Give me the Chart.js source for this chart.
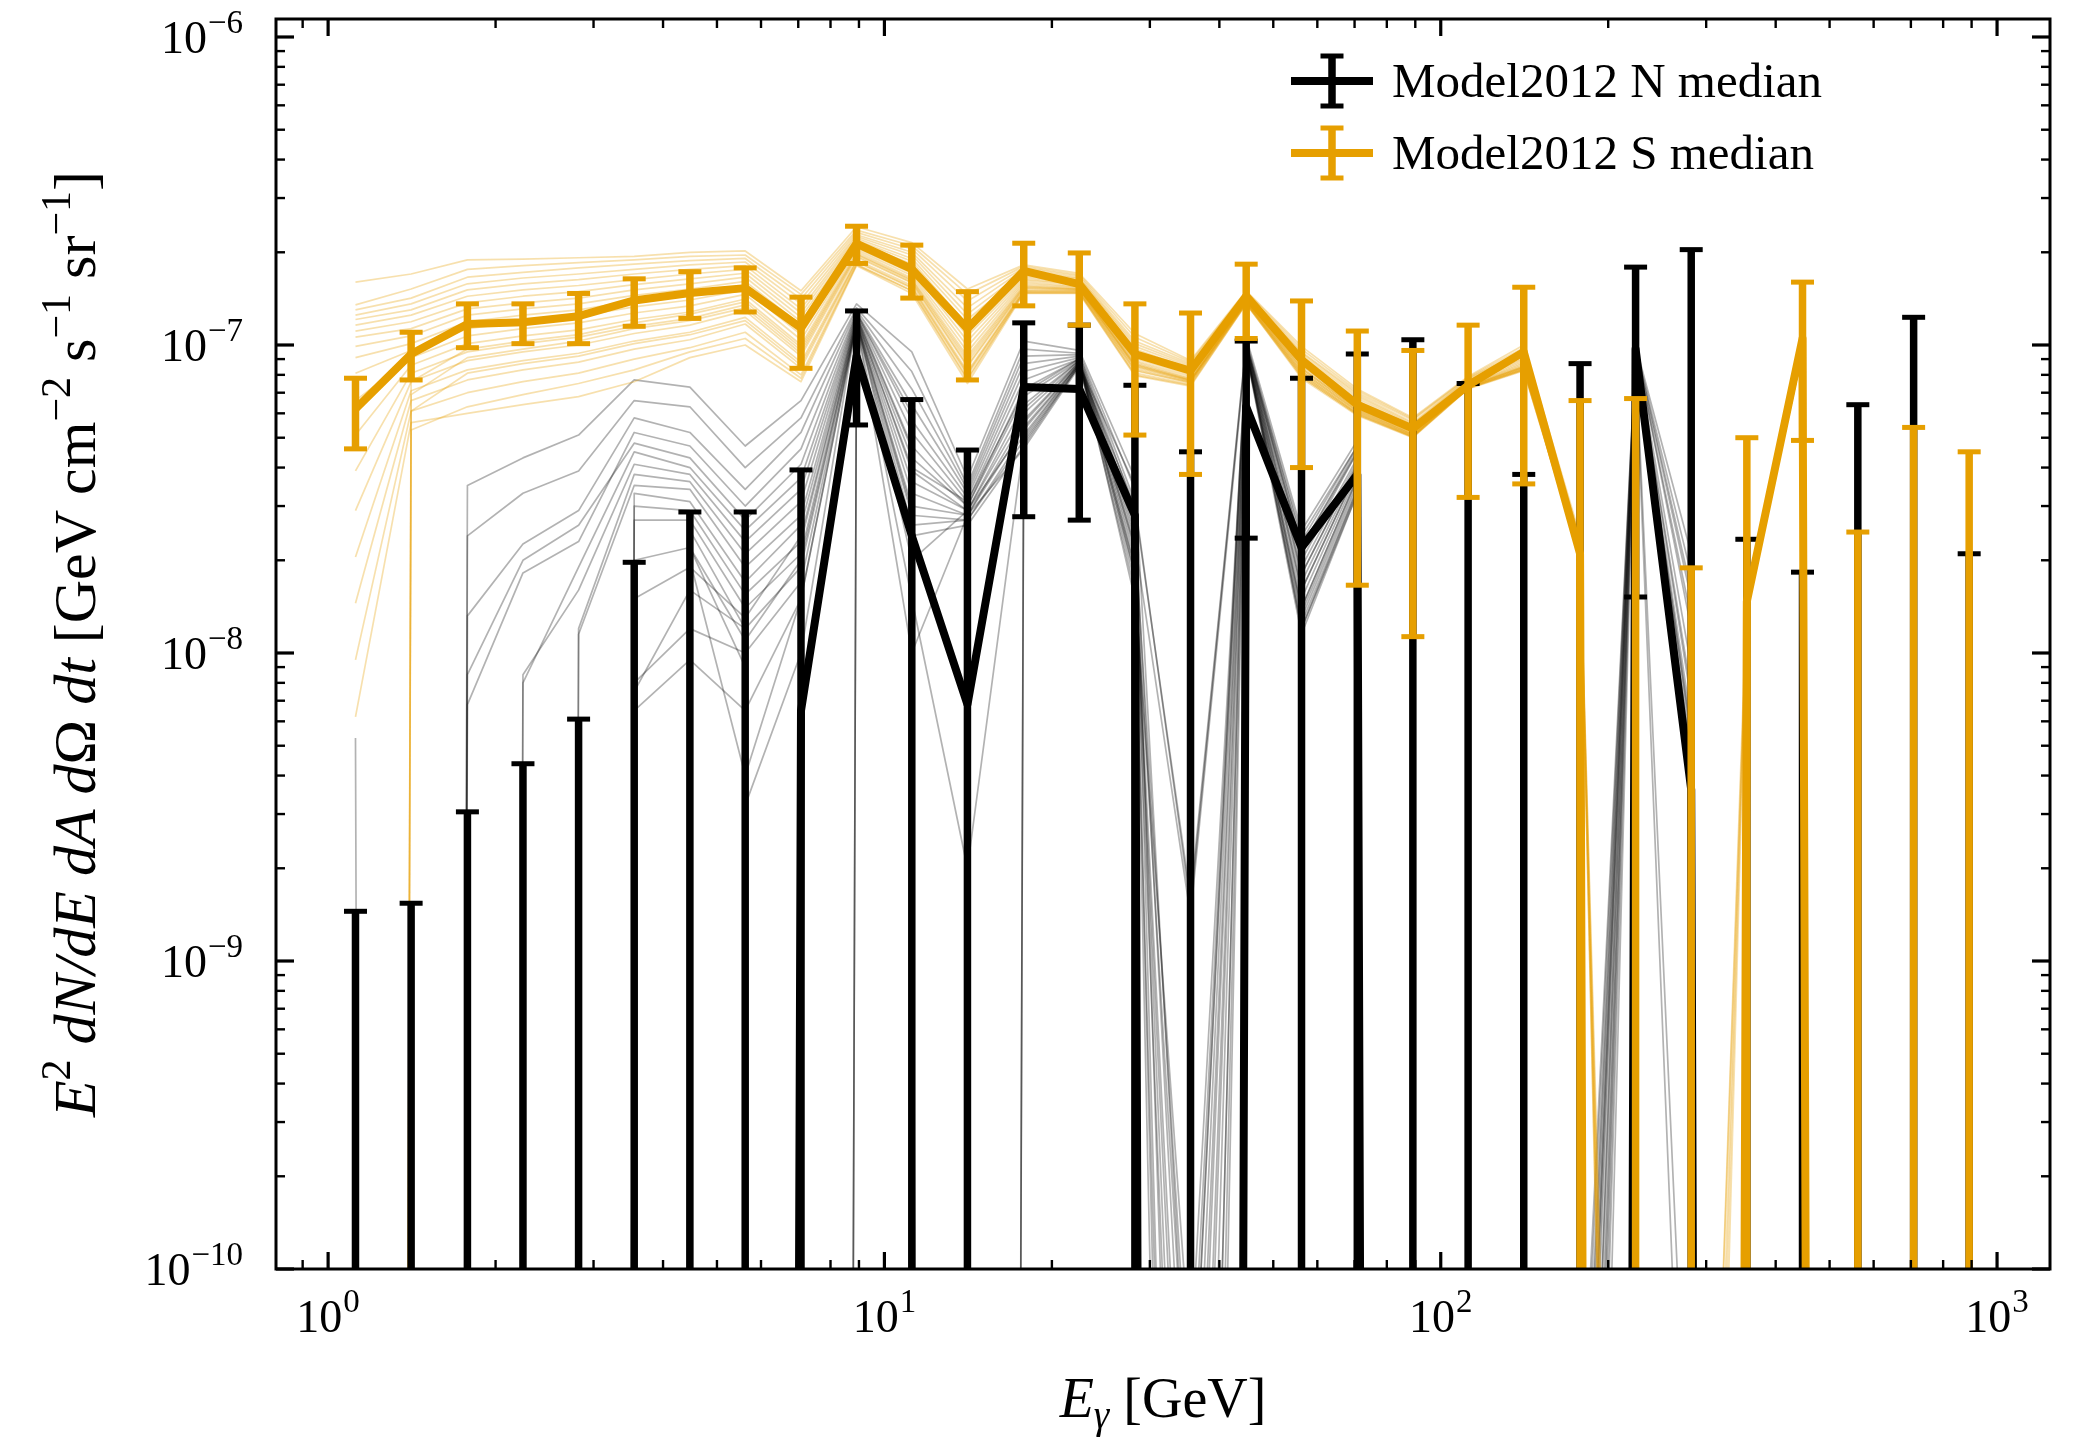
<!DOCTYPE html>
<html>
<head>
<meta charset="utf-8">
<title>Model2012 N/S median spectra</title>
<script src="https://cdn.jsdelivr.net/npm/chart.js"></script>
<style>
  html, body { margin: 0; padding: 0; background: #ffffff; overflow: hidden; }
  #wrap { width: 2095px; height: 1441px; position: relative; }
</style>
</head>
<body>
<div id="wrap"><canvas id="spectrum"></canvas></div>
<script>
// Energy bin centres [GeV], 10 bins per decade.
const energies = [1.12, 1.41, 1.78, 2.24, 2.82, 3.55, 4.47, 5.62, 7.08, 8.91,
                  11.2, 14.1, 17.8, 22.4, 28.2, 35.5, 44.7, 56.2, 70.8, 89.1,
                  112, 141, 178, 224, 282, 355, 447, 562, 708, 891];

// All fluxes below are in units of 1e-9 GeV cm^-2 s^-1 sr^-1.
// null = non-positive value (clipped on the log axis), lower = 0 -> bar runs below the axis floor.

// North median and its error bar ends.
const nMedian = [null, null, null, null, null, null, null, null, 6.5, 92,
                 24, 6.8, 73, 72, 28, null, 63, 22, 38, null,
                 null, null, null, 97, 3.6, null, null, null, null, null];
const nUpper = [1.45, 1.54, 3.05, 4.37, 6.1, 19.7, 28.7, 28.7, 39.3, 129,
                66.5, 45.6, 118, 116, 74, 45, 103, 78, 93.5, 104,
                75, 38, 87, 179, 204, 23.4, 18.3, 64, 123, 21];
const nLower = [0, 0, 0, 0, 0, 0, 0, 0, 0, 55,
                0, 0, 27.7, 27, 0, 0, 23.6, 0, 0, 0,
                0, 0, 0, 15.2, 0, 0, 0, 0, 0, 0];

// South median and its error bar ends.
const sMedian = [62, 93.5, 117, 118.5, 124, 139.5, 147.5, 153, 113.5, 213.5,
                 176.5, 113, 174, 157.5, 93.5, 82.5, 144, 89.5, 64, 53.5,
                 74, 95, 21, null, null, 14.7, 105, null, null, null];
const sUpper = [78, 110, 136, 136, 147, 164, 173, 178, 143, 243,
                211, 149, 214, 199, 136, 127, 183, 139, 111, 96,
                116, 154, 66, 67, 18.9, 50, 160, 24.7, 54, 45];
const sLower = [46, 77, 98, 101, 101, 115, 122, 128, 84, 184,
                142, 77, 134, 116, 51, 38, 105, 40, 16.6, 11.3,
                32, 35.4, 0, 0, 0, 0, 49, 0, 0, 0];

// Individual North model realisations.
const nSamples = [
  [null, null, 35, 43, 51, 77, 73, 47, 66, 136, 95, 37, 103, 96, 37, 0.02, 106, 25, 49, null, null, null, 0.004, 100, 21, null, null, null, null, null],
  [null, null, 24, 33, 39, 66, 63, 40, 58, 132, 82, 35, 97, 94, 34, 0.0001, 104, 23, 47, null, null, null, 0.0001, 99, 16, null, null, null, null, null],
  [null, null, 13.2, 22.6, 29, 58, 52, 34, 52, 130, 72, 34, 92, 93, 31, 1.5, 102, 21, 45, null, null, null, 0.01, 98, 12, null, null, null, null, null],
  [5.3, null, 6.8, 18.2, 23, 52, 47, 30, 46, 128, 64, 33, 87, 92, 29, 0.00001, 101, 20, 43, null, null, null, null, 97, 9, null, null, null, null, null],
  [null, null, 8.5, 20, 26, 48, 43, 27, 41, 127, 57, 32, 82, 91, 27, 0.01, 100, 19, 42, null, null, null, 0.002, 96, 7.5, null, null, null, null, null],
  [null, null, null, 8, 19, 45, 40, 25, 37, 126, 52, 31, 77, 90, 26, null, 99, 18, 41, null, null, null, 0.00001, 95, 0.01, null, null, null, null, null],
  [null, null, null, 8.5, 16, 41, 38, 23, 34, 125, 47, 30, 72, 90, 24, 0.03, 98, 17, 40, null, null, null, 0.02, 95, 6, null, null, null, null, null],
  [null, null, null, null, 12, 38, 36, 21, 31, 124, 43, 30, 68, 89, 23, 1.4, 98, 16, 39, null, null, null, 0.0005, 94, 5.4, null, null, null, null, null],
  [null, null, null, null, 11.5, 35, 34, 19, 28, 123, 39, 29, 64, 89, 22, 0.000001, 97, 15, 38, null, null, null, null, 94, 5, null, null, null, null, null],
  [null, null, null, null, null, 33, 31, 17, 26, 122, 36, 29, 60, 88, 21, 0.001, 97, 14, 37, null, null, null, 0.006, 93, 4.6, null, null, null, null, null],
  [null, null, null, null, null, 30, 29, 15.5, 23, 121, 33, 28, 57, 88, 20, null, 96, 13.5, 36, null, null, null, 0.0002, 93, 4.3, null, null, null, null, null],
  [null, null, null, null, null, 27, 27, 14, 21, 120, 30, 28, 54, 87, 19, 0.005, 96, 13, 35, null, null, null, 0.001, 92, 4.1, null, null, null, null, null],
  [null, null, null, null, null, 7.5, 16, 12, 19, 119, 28, 27, 51, 87, 18, 0.0000001, 95, 12.5, 34, null, null, null, null, 92, 3.9, null, null, null, null, null],
  [null, null, null, null, null, 8, 12, 10, 17, 118, 26, 27, 49, 86, 17, 0.0005, 95, 12, 34, null, null, null, 0.003, 91, 0.003, null, null, null, null, null],
  [null, null, null, null, null, 6.5, 9.5, 6.5, 15, 117, 24, 26, 47, 86, 16, 0.05, 94, 11.5, 33, null, null, null, 0.00005, 91, 3.5, null, null, null, null, null],
  [null, null, null, null, null, null, 25, 12, null, 127, 60, null, 62, 89, 25, null, 100, 18, 41, null, null, null, 0.008, 96, 7, null, null, null, null, null],
  [null, null, null, null, null, null, 22, 9, null, 124, 46, null, 56, 88, 22, null, 98, 16, 39, null, null, null, 0.0003, 95, 5.5, null, null, null, null, null],
  [null, null, null, null, null, null, null, 3.2, 10, 120, 29, null, 50, 87, 19, 0.02, 96, 14, 37, null, null, null, null, 93, 4.5, null, null, null, null, null],
  [null, null, null, null, null, null, null, 5, null, 122, 40, 31, 70, 90, 15, 0.00001, 99, 22, 45, null, null, null, 0.015, 97, 13, null, null, null, null, null],
  [null, null, null, null, null, 20, 22, 11, 20, 118, 15, 2, 48, 86, 35, null, 101, 24, 47, null, null, null, 0.001, 99, 18, null, null, null, null, null],
  [null, null, null, null, null, null, 20, 4, 15, 119, 10, 28, 46, 85, 30, 1.6, 102, 22, 46, null, null, null, null, 98, 15, null, null, null, null, null],
  [null, null, null, null, null, 15, 19, 13, 24, 121, 20, 29, 53, 87, 18, 0.003, 96, 12, 33, null, null, null, 0.004, 90, 3.4, null, null, null, null, null]
];

// Individual South model realisations.
const sSamples = [
  [160, 170, 189, 190, 192, 194, 200, 202, 150, 242, 215, 152, 182, 171, 109, 89, 150, 99, 72, 58, 79, 100, 24, 0.000001, null, 16, 110, null, null, null],
  [135, 152, 176, 181, 185, 189, 194, 196, 146, 236, 210, 146, 180, 169, 106, 88, 149, 97, 71, 57.5, 78.5, 98, 23.6, null, 0.0001, 15.8, 108, null, null, null],
  [130, 142, 166, 172, 178, 183, 188, 191, 141, 232, 205, 139, 178, 167, 103, 87, 148, 95, 70, 57, 78, 96, 23.2, 0.0000003, null, 15.6, 106, null, null, null],
  [125, 136, 158, 165, 170, 176, 182, 186, 136, 228, 200, 132, 176, 165, 101, 86, 147, 94, 69, 56, 77.5, 95, 23, null, null, 15.4, 105, null, null, null],
  [121, 130, 151, 158, 163, 170, 176, 181, 131, 225, 196, 126, 173, 164, 99, 85, 146, 92.5, 68, 55.5, 77, 93, 22.6, 0.000005, 0.00001, 15.2, 104, null, null, null],
  [116, 125, 144, 151, 156, 163, 170, 176, 127, 222, 191, 121, 171, 162, 97, 84, 145, 91, 67, 55, 76.5, 92, 22.4, null, null, 15, 103, null, null, null],
  [111, 119, 137, 144, 149, 157, 164, 171, 123, 219, 187, 116, 168, 161, 95, 83, 144, 90, 66, 54.5, 76, 91, 22.2, 0.000002, null, 14.9, 102, null, null, null],
  [106, 113, 131, 137, 142, 151, 158, 166, 119, 216, 183, 111, 166, 159, 93.5, 82, 143, 89, 65, 54, 75.5, 90, 22, null, 0.00003, 14.8, 101, null, null, null],
  [99, 107, 125, 131, 136, 145, 152, 161, 116, 213, 179, 107, 164, 158, 92, 81, 142, 88, 64.5, 53.5, 75, 89, 21.8, 0.0000005, null, 14.7, 100, null, null, null],
  [91, 101, 119, 125, 130, 139, 146, 156, 112, 210, 175, 103, 162, 157, 90.5, 80, 141, 87, 64, 53, 74.5, 88, 21.6, null, null, 14.6, 99, null, null, null],
  [81, 96, 113, 119, 124, 133, 140, 151, 108, 207, 171, 99, 160, 155, 89, 79, 140, 86, 63, 52.5, 74, 87, 21.4, 0.00001, null, 14.5, 98, null, null, null],
  [66, 91, 107, 113, 118, 127, 134, 146, 104, 204, 168, 95, 158, 154, 88, 78, 139.5, 85, 62.5, 52, 74, 86, 21.2, null, 0.000003, 14.4, 97.5, null, null, null],
  [51, 86, 101, 107, 112, 121, 128, 141, 100, 201, 165, 92, 156, 153, 87, 77.5, 139, 84, 62, 51.5, 73.5, 85.5, 21, 0.000001, null, 14.3, 97, null, null, null],
  [39, 81, 95, 101, 106, 115, 122, 135, 96, 197, 162, 88, 154, 152, 86, 77, 138.5, 83, 61.5, 51.2, 73.3, 85, 21, null, null, 14.2, 96.5, null, null, null],
  [29, 76, 89, 95, 100, 109, 116, 129, 92, 193, 159, 85, 152, 151, 85, 76.5, 138, 82, 61, 51, 73, 84.5, 20.9, 0.000004, null, 14.1, 96, null, null, null],
  [20.5, 71, 83, 89, 94, 103, 110, 123, 88, 189, 156, 82, 150, 150, 84, 76, 137.5, 81, 60.5, 50.7, 72.8, 84, 20.8, null, null, 14, 95.5, null, null, null],
  [14.5, 66, 77, 83, 88, 97, 104, 117, 84, 186, 153, 80, 149, 149, 82.5, 75.5, 137, 80, 60, 50.5, 72.5, 83.5, 20.7, null, 0.0001, 14, 95, null, null, null],
  [9.5, 61, 70, 76, 81, 90, 98, 110, 80, 183, 150, 77, 148, 148, 81, 74.5, 136.5, 79, 59.5, 50.3, 72.3, 83, 20.6, null, null, 13.9, 95, null, null, null],
  [6.2, 56, 60, 64, 68, 76, 91, 100, 76, 181, 147, 75, 147, 147, 79.5, 73.5, 136, 78, 59, 50, 72, 82.5, 20.5, null, null, 13.9, 95, null, null, null],
  [null, 69, 91, 97, 103, 113, 120, 132, 94, 195, 160, 86, 153, 151, 85.5, 76.5, 138, 82, 61, 51, 73, 84.5, 21, null, null, 14.2, 96, null, null, null],
  [null, 61, 81, 87, 92, 101, 108, 120, 86, 187, 154, 81, 150, 149, 83, 75.5, 137, 80.5, 60, 50.5, 72.5, 83.5, 20.8, null, null, 14, 95.5, null, null, null],
  [null, 53, 63, 69, 75, 83, 95, 105, 78, 182, 150, 78, 148, 147.5, 80, 74, 136, 79, 59.5, 50.2, 72.2, 83, 20.6, null, null, 13.9, 95, null, null, null],
  [null, 76, 97, 103, 108, 118, 126, 138, 98, 198, 163, 90, 155, 152, 86.5, 77, 139, 84, 62, 51.5, 73.5, 85, 21.2, null, null, 14.3, 97, null, null, null]
];

// Axis ticks and their labels.
const xMajorTicks = [1, 10, 100, 1000];
const xTickExponents = ['0', '1', '2', '3'];
const yMajorTicks = [1e-10, 1e-9, 1e-8, 1e-7, 1e-6];
const yTickExponents = ['\u221210', '\u22129', '\u22128', '\u22127', '\u22126'];

const UNIT = 1e-9;
const CLIP_FLOOR = 1e-60;   // stand-in for non-positive values, drawn far below the axis
const X_MIN = 0.806, X_MAX = 1245;
const Y_MIN = 1e-10, Y_MAX = 1.144e-6;

const BLACK = '#000000';
const ORANGE = '#E69F00';
const SERIF = '"Liberation Serif", "DejaVu Serif", serif';

/**
 * Turns a flux table row into chart points.
 *
 * @param {Array} values - Fluxes in UNIT, null where the value is non-positive.
 */
function toPoints(values) {
    return energies.map((e, i) => ({
        x: e,
        y: values[i] == null ? CLIP_FLOOR : values[i] * UNIT,
    }));
}

const lineDefaults = {
    pointRadius: 0,
    pointHoverRadius: 0,
    fill: false,
    tension: 0,
    borderJoinStyle: 'round',
    borderCapStyle: 'butt',
};

const datasets = [
    {
        ...lineDefaults,
        label: 'Model2012 S median',
        data: toPoints(sMedian),
        borderColor: ORANGE,
        borderWidth: 8,
        order: 0,
        errorBars: { upper: sUpper, lower: sLower },
    },
    {
        ...lineDefaults,
        label: 'Model2012 N median',
        data: toPoints(nMedian),
        borderColor: BLACK,
        borderWidth: 8,
        order: 1,
        errorBars: { upper: nUpper, lower: nLower },
    },
];
sSamples.forEach((row, i) => {
    datasets.push({
        ...lineDefaults,
        label: 'S realisation ' + (i + 1),
        data: toPoints(row),
        borderColor: 'rgba(230, 159, 0, 0.32)',
        borderWidth: 1.7,
        order: 2,
    });
});
nSamples.forEach((row, i) => {
    datasets.push({
        ...lineDefaults,
        label: 'N realisation ' + (i + 1),
        data: toPoints(row),
        borderColor: 'rgba(0, 0, 0, 0.3)',
        borderWidth: 1.7,
        order: 3,
    });
});

/**
 * Draws a run of mixed roman / italic / super- and subscript text.
 * x is the centre of the whole run, y the baseline.
 */
function drawRuns(ctx, runs, x, y, size) {
    const fontFor = (r) => {
        const small = r.s === 'sup' || r.s === 'sub' || r.s === 'subit';
        const italic = r.s === 'it' || r.s === 'subit';
        return (italic ? 'italic ' : '') + (small ? size * 0.7 : size) + 'px ' + SERIF;
    };
    let total = 0;
    const widths = runs.map((r) => {
        ctx.font = fontFor(r);
        const w = ctx.measureText(r.t).width;
        total += w;
        return w;
    });
    let cx = x - total / 2;
    runs.forEach((r, i) => {
        ctx.font = fontFor(r);
        let dy = 0;
        if (r.s === 'sup') dy = -size * 0.42;
        if (r.s === 'sub' || r.s === 'subit') dy = size * 0.2;
        ctx.fillText(r.t, cx, y + dy);
        cx += widths[i];
    });
}

/**
 * Draws a "10^n" tick label. align is 'right' (y axis) or 'center' (x axis).
 */
function drawPowerLabel(ctx, exponent, x, y, align) {
    ctx.font = '46px ' + SERIF;
    const wBase = ctx.measureText('10').width;
    ctx.font = '33px ' + SERIF;
    const wExp = ctx.measureText(exponent).width;
    const total = wBase + wExp + 1;
    const left = align === 'right' ? x - total : x - total / 2;
    ctx.font = '46px ' + SERIF;
    ctx.fillText('10', left, y);
    ctx.font = '33px ' + SERIF;
    ctx.fillText(exponent, left + wBase + 1, y - 20);
}

function strokeLine(ctx, x0, y0, x1, y1) {
    ctx.beginPath();
    ctx.moveTo(x0, y0);
    ctx.lineTo(x1, y1);
    ctx.stroke();
}

// Vertical error bars with caps, drawn right after their median line.
const errorBarPlugin = {
    id: 'errorBars',
    afterDatasetDraw(chart, args) {
        const ds = chart.data.datasets[args.index];
        if (!ds.errorBars) return;
        const { ctx, chartArea: a, scales: { x, y } } = chart;
        const { upper, lower } = ds.errorBars;
        ctx.save();
        ctx.beginPath();
        ctx.rect(a.left, a.top, a.right - a.left, a.bottom - a.top);
        ctx.clip();
        ctx.strokeStyle = ds.borderColor;
        ctx.lineCap = 'butt';
        energies.forEach((e, i) => {
            const px = x.getPixelForValue(e);
            const top = y.getPixelForValue(upper[i] * UNIT);
            const bottom = lower[i] > 0 ? y.getPixelForValue(lower[i] * UNIT) : a.bottom + 20;
            ctx.lineWidth = 7.5;
            strokeLine(ctx, px, top, px, bottom);
            ctx.lineWidth = 5;
            strokeLine(ctx, px - 11.5, top, px + 11.5, top);
            if (lower[i] > 0) strokeLine(ctx, px - 11.5, bottom, px + 11.5, bottom);
        });
        ctx.restore();
    },
};

// Frame, inward ticks on all four sides, tick labels and axis titles.
const axesPlugin = {
    id: 'axesFrame',
    afterDraw(chart) {
        const { ctx, chartArea: a, scales: { x, y } } = chart;
        ctx.save();
        ctx.strokeStyle = BLACK;
        ctx.fillStyle = BLACK;
        ctx.lineCap = 'butt';

        // x ticks (bottom and top)
        for (let p = -1; p <= 3; p++) {
            for (let m = 1; m <= 9; m++) {
                const v = m * Math.pow(10, p);
                if (v < X_MIN || v > X_MAX) continue;
                const px = x.getPixelForValue(v);
                const len = m === 1 ? 17 : 9;
                ctx.lineWidth = m === 1 ? 3.2 : 2.4;
                strokeLine(ctx, px, a.bottom, px, a.bottom - len);
                strokeLine(ctx, px, a.top, px, a.top + len);
            }
        }
        // y ticks (left and right)
        for (let p = -10; p <= -6; p++) {
            for (let m = 1; m <= 9; m++) {
                const v = m * Math.pow(10, p);
                if (v < Y_MIN * 0.999 || v > Y_MAX) continue;
                const py = y.getPixelForValue(v);
                const len = m === 1 ? 18 : 9;
                ctx.lineWidth = m === 1 ? 3.2 : 2.4;
                strokeLine(ctx, a.left, py, a.left + len, py);
                strokeLine(ctx, a.right, py, a.right - len, py);
            }
        }

        ctx.lineWidth = 3;
        ctx.strokeRect(a.left, a.top, a.right - a.left, a.bottom - a.top);

        ctx.textAlign = 'left';
        ctx.textBaseline = 'alphabetic';
        yMajorTicks.forEach((v, i) => {
            drawPowerLabel(ctx, yTickExponents[i], a.left - 33, y.getPixelForValue(v) + 16, 'right');
        });
        xMajorTicks.forEach((v, i) => {
            drawPowerLabel(ctx, xTickExponents[i], x.getPixelForValue(v), a.bottom + 63, 'center');
        });

        // x title: E_gamma [GeV]
        drawRuns(ctx, [
            { t: 'E', s: 'it' }, { t: '\u03b3', s: 'subit' }, { t: ' [GeV]', s: 'rm' },
        ], (a.left + a.right) / 2, a.bottom + 148, 56);

        // y title, rotated
        ctx.save();
        ctx.translate(95, (a.top + a.bottom) / 2);
        ctx.rotate(-Math.PI / 2);
        drawRuns(ctx, [
            { t: 'E', s: 'it' }, { t: '2', s: 'sup' }, { t: ' ', s: 'rm' },
            { t: 'dN/dE', s: 'it' }, { t: ' ', s: 'rm' }, { t: 'dA', s: 'it' }, { t: ' ', s: 'rm' },
            { t: 'd', s: 'it' }, { t: '\u03a9', s: 'rm' }, { t: ' ', s: 'rm' }, { t: 'dt', s: 'it' },
            { t: ' [GeV cm', s: 'rm' }, { t: '\u22122', s: 'sup' }, { t: ' s', s: 'rm' },
            { t: '\u22121', s: 'sup' }, { t: ' sr', s: 'rm' }, { t: '\u22121', s: 'sup' }, { t: ']', s: 'rm' },
        ], 0, 0, 60);
        ctx.restore();

        ctx.restore();
    },
};

// Legend with error-bar handles, top right of the plot.
const legendPlugin = {
    id: 'errorbarLegend',
    afterDraw(chart) {
        const { ctx } = chart;
        const items = ['Model2012 N median', 'Model2012 S median']
            .map((label) => chart.data.datasets.find((d) => d.label === label));
        ctx.save();
        items.forEach((ds, i) => {
            const cy = 81 + i * 72;
            const cx = 1332;
            ctx.strokeStyle = ds.borderColor;
            ctx.lineCap = 'butt';
            ctx.lineWidth = 8;
            strokeLine(ctx, cx - 41, cy, cx + 41, cy);
            ctx.lineWidth = 7.5;
            strokeLine(ctx, cx, cy - 25, cx, cy + 25);
            ctx.lineWidth = 5;
            strokeLine(ctx, cx - 11.5, cy - 25, cx + 11.5, cy - 25);
            strokeLine(ctx, cx - 11.5, cy + 25, cx + 11.5, cy + 25);
            ctx.fillStyle = BLACK;
            ctx.font = '49px ' + SERIF;
            ctx.textAlign = 'left';
            ctx.textBaseline = 'alphabetic';
            ctx.fillText(ds.label, 1392, cy + 16);
        });
        ctx.restore();
    },
};

new Chart(document.getElementById('spectrum'), {
    type: 'line',
    data: { datasets },
    options: {
        responsive: true,
        maintainAspectRatio: false,
        animation: false,
        devicePixelRatio: 1,
        events: [],
        layout: { padding: { left: 276, right: 45, top: 19, bottom: 172 } },
        plugins: {
            legend: { display: false },
            tooltip: { enabled: false },
        },
        scales: {
            x: { type: 'logarithmic', min: X_MIN, max: X_MAX, display: false },
            y: { type: 'logarithmic', min: Y_MIN, max: Y_MAX, display: false },
        },
    },
    plugins: [errorBarPlugin, axesPlugin, legendPlugin],
});
</script>
</body>
</html>
